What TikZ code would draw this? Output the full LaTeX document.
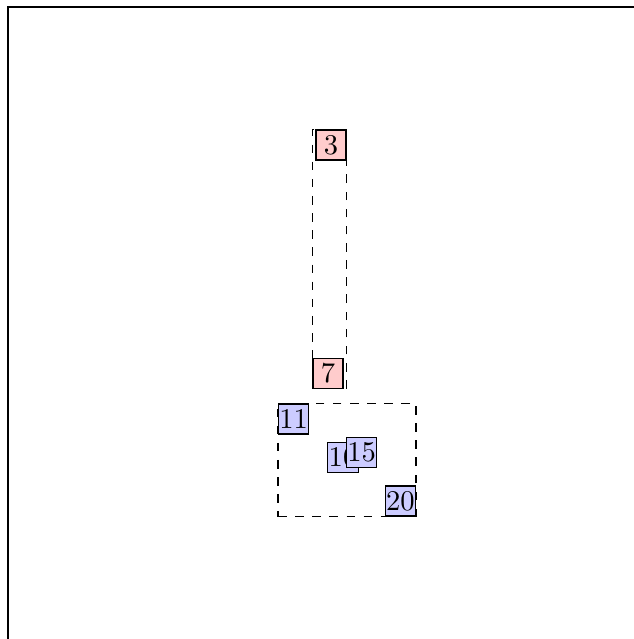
\documentclass[tikz,border=0pt]{standalone}
\usepackage{xcolor}
\usepackage{tikz}
\usetikzlibrary{fit}
\definecolor{cellred}{HTML}{FFCCCC}
\definecolor{cellblue}{HTML}{CCCCFF}

\begin{document}
\begin{tikzpicture}[
      x=0.35pt, y=-0.35pt,
      cell/.style={draw, inner sep=0.3pt, minimum size=10.5pt, font=\normalsize},
      redcell/.style={cell, fill=cellred},
      bluecell/.style={cell, fill=cellblue},
      group/.style={draw, dashed, inner sep=0pt}]
    \useasboundingbox (0,0) rectangle (634,639);
    \begin{scope}
      \clip (0,0) rectangle (634,639);
      \draw[thick] (8,7) rectangle (700,700);
    \end{scope}
    \node[redcell] (c3)  at (331,145)   {3};
    \node[redcell] (c7)  at (328,373.3) {7};
    \node[group, fit=(c3) (c7)] (top) {};
    \node[bluecell] (c11) at (293.7,419)   {11};
    \node[bluecell] (c10) at (343,457.7)   {10};
    \node[bluecell] (c15) at (361.7,452.7) {15};
    \node[bluecell] (c20) at (400.3,501)   {20};
    \node[group, fit=(c11) (c20)] (bottom) {};
  \end{tikzpicture}
\end{document}
